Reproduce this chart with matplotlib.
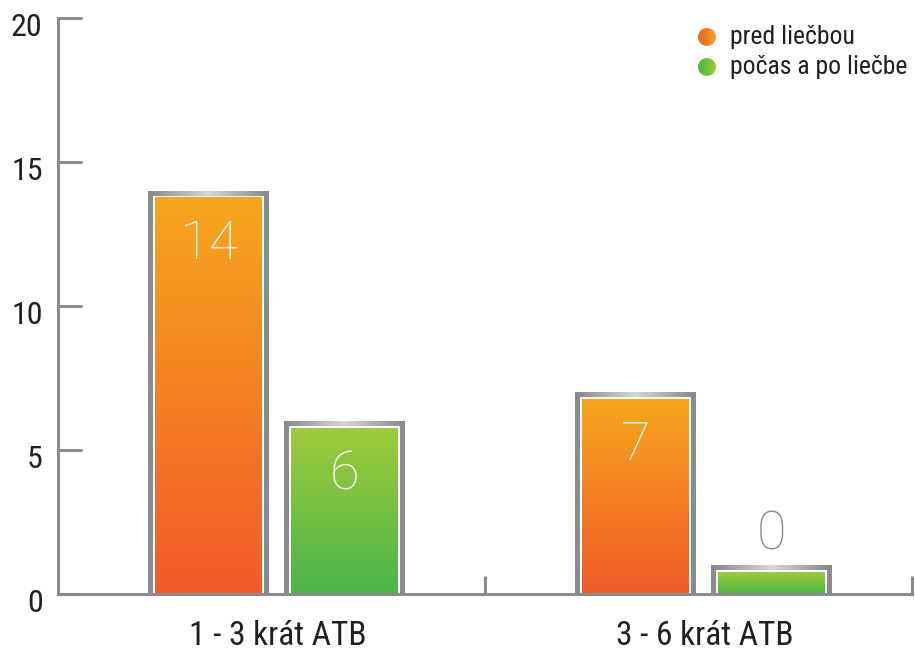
import numpy as np
import matplotlib
matplotlib.use("Agg")
import matplotlib.pyplot as plt
import matplotlib.transforms as mtransforms
from matplotlib import font_manager
from matplotlib.patches import Circle
from matplotlib.colors import LinearSegmentedColormap

categories = ["1 - 3 krát ATB", "3 - 6 krát ATB"]
series_names = ["pred liečbou", "počas a po liečbe"]
pred = [14, 7]
pocas = [6, 0]
yticks = [0, 5, 10, 15, 20]

installed = {f.name for f in font_manager.fontManager.ttflist}


def pick(*names):
    for n in names:
        if n in installed:
            return n
    return "DejaVu Sans"


narrow = pick("Liberation Sans Narrow", "Roboto Condensed", "Liberation Sans")
thin = pick("Roboto", "Lato", "Open Sans")
plt.rcParams["font.family"] = [narrow, "DejaVu Sans"]

orange = LinearSegmentedColormap.from_list("orange", ["#f15a2a", "#f7a61c"])
green = LinearSegmentedColormap.from_list("green", ["#4ab648", "#9ecb3c"])
frame = LinearSegmentedColormap.from_list("frame", ["#86878a", "#d6d6d8", "#86878a"])
grey = "#8a8b8e"
dark = "#231f20"

W, H = 915, 652
fig = plt.figure(figsize=(W / 100, H / 100), dpi=100)
ax = fig.add_axes([58 / W, 58 / H, 854 / W, 576 / H])
ax.set_xlim(-0.5, 1.5)
ax.set_ylim(0, 20)

# pixel -> data unit sizes
px_x = 2.0 / 854
px_y = 20.0 / 576

width = 0.283
gap = 0.034
nudge = 5 * px_x
offsets = [nudge - (width + gap) / 2, nudge + (width + gap) / 2]
min_h = 1.0  # a zero bar is still drawn as a thin stub
vgrad = np.linspace(0, 1, 256).reshape(-1, 1)
hgrad = np.linspace(0, 1, 256).reshape(1, -1)

for vals, cmap, off in zip([pred, pocas], [orange, green], offsets):
    for i, v in enumerate(vals):
        h = max(v, min_h)
        x0 = i + off - width / 2
        x1 = x0 + width
        # grey frame, white inner line, gradient fill
        ax.fill_between([x0, x1], 0, h, color=grey, lw=0, zorder=2)
        ax.imshow(hgrad, cmap=frame, extent=(x0, x1, h - 5 * px_y, h),
                  aspect="auto", zorder=2.1)
        ax.fill_between([x0 + 5 * px_x, x1 - 5 * px_x], 0, h - 5 * px_y,
                        color="white", lw=0, zorder=2.2)
        ax.imshow(vgrad, cmap=cmap, origin="lower",
                  extent=(x0 + 7 * px_x, x1 - 7 * px_x, 0, h - 7 * px_y),
                  aspect="auto", zorder=2.3)
        cx = (x0 + x1) / 2
        if v >= 3:
            ax.text(cx, h - 1.85, str(v), ha="center", va="center", color="white",
                    fontsize=39, family=thin, fontweight=100, zorder=3)
        else:
            ax.text(cx, h + 1.05, str(v), ha="center", va="center", color=grey,
                    fontsize=39, family=thin, fontweight=100, zorder=3)

for side in ["top", "right"]:
    ax.spines[side].set_visible(False)
for side in ["left", "bottom"]:
    ax.spines[side].set_color(grey)
    ax.spines[side].set_linewidth(2.2)
    ax.spines[side].set_zorder(4)

ax.set_yticks(yticks)
ax.set_yticklabels([str(t) for t in yticks])
ax.tick_params(axis="y", direction="in", length=17, width=2.2, color=grey,
               labelsize=23, labelcolor=dark, pad=11)
shift = mtransforms.ScaledTranslation(0, -7 / 100, fig.dpi_scale_trans)
for lab in ax.get_yticklabels():
    lab.set_transform(lab.get_transform() + shift)

ax.set_xticks([0, 1])
ax.set_xticklabels(categories)
ax.set_xticks([0.5, 1.5], minor=True)
ax.tick_params(axis="x", which="major", length=0, labelsize=24, labelcolor=dark, pad=19)
ax.tick_params(axis="x", which="minor", direction="in", length=13, width=2.2, color=grey)
xshift = mtransforms.ScaledTranslation(6 / 100, 0, fig.dpi_scale_trans)
for lab in ax.get_xticklabels():
    lab.set_transform(lab.get_transform() + xshift)

# legend: gradient dots with labels
dots = [(707, 37, ["#f15a2a", "#f7a61c"]), (707, 67, ["#4ab648", "#9ecb3c"])]
for (x, y, cols), name in zip(dots, series_names):
    d = 18
    lax = fig.add_axes([(x - d / 2) / W, (H - y - d / 2) / H, d / W, d / H])
    lax.set_xlim(0, 1)
    lax.set_ylim(0, 1)
    lax.axis("off")
    im = lax.imshow(hgrad, cmap=LinearSegmentedColormap.from_list("dot", cols),
                    extent=(0, 1, 0, 1), aspect="auto")
    im.set_clip_path(Circle((0.5, 0.5), 0.5, transform=lax.transData))
    fig.text(730 / W, (H - y) / H, name, ha="left", va="center",
             fontsize=18.5, color=dark)

fig.savefig("out.png", dpi=100)
